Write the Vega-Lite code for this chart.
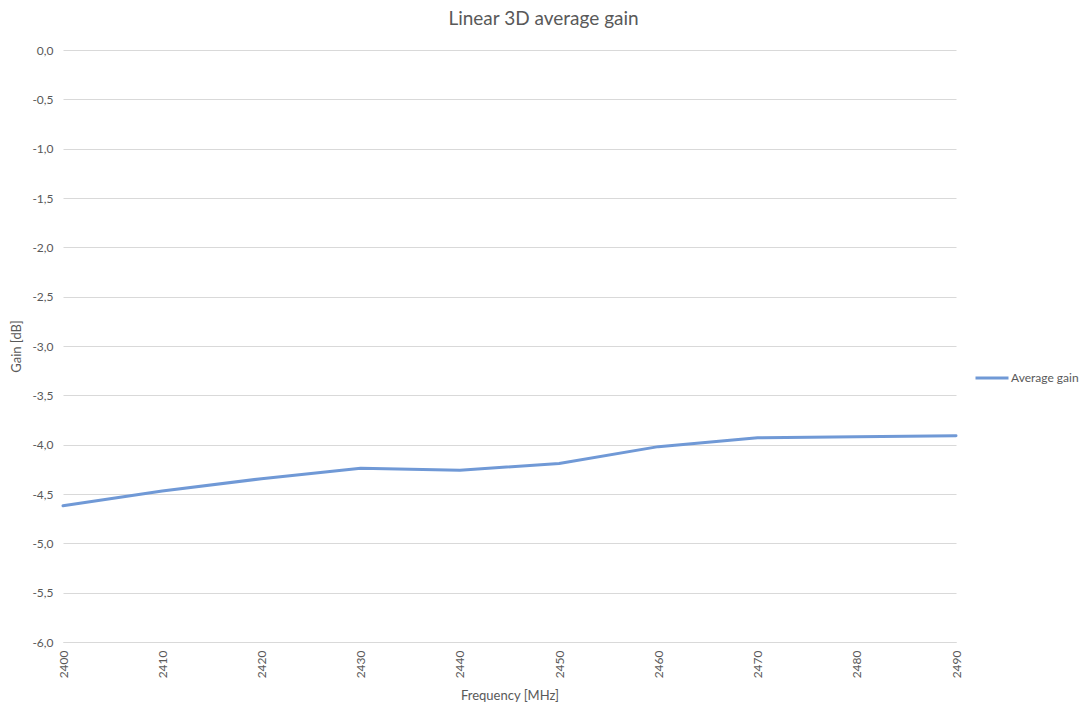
{
  "$schema": "https://vega.github.io/schema/vega-lite/v6.json",
  "autosize": {"type": "none"},
  "width": 893,
  "height": 592,
  "padding": {"left": 63, "top": 50, "right": 134, "bottom": 64},
  "background": "white",
  "title": {
    "text": "Linear 3D average gain",
    "fontSize": 19,
    "font": "Lato",
    "fontWeight": "normal",
    "color": "#595959",
    "anchor": "middle",
    "dx": 34,
    "offset": 15
  },
  "config": {
    "view": {"stroke": null},
    "font": "Lato"
  },
  "data": {
    "values": [
      {"freq": 2400, "gain": -4.62, "series": "Average gain"},
      {"freq": 2410, "gain": -4.47, "series": "Average gain"},
      {"freq": 2420, "gain": -4.345, "series": "Average gain"},
      {"freq": 2430, "gain": -4.24, "series": "Average gain"},
      {"freq": 2440, "gain": -4.26, "series": "Average gain"},
      {"freq": 2450, "gain": -4.19, "series": "Average gain"},
      {"freq": 2460, "gain": -4.02, "series": "Average gain"},
      {"freq": 2470, "gain": -3.93, "series": "Average gain"},
      {"freq": 2480, "gain": -3.92, "series": "Average gain"},
      {"freq": 2490, "gain": -3.91, "series": "Average gain"}
    ]
  },
  "mark": {"type": "line", "strokeWidth": 3, "strokeCap": "round", "strokeJoin": "round"},
  "encoding": {
    "x": {
      "field": "freq",
      "type": "quantitative",
      "scale": {"domain": [2400, 2490], "nice": false, "zero": false},
      "axis": {
        "title": "Frequency [MHz]",
        "titleFontSize": 13,
        "titleFontWeight": "normal",
        "titleColor": "#595959",
        "titlePadding": 12,
        "values": [2400, 2410, 2420, 2430, 2440, 2450, 2460, 2470, 2480, 2490],
        "format": "d",
        "labelAngle": -90,
        "labelAlign": "right",
        "labelBaseline": "middle",
        "labelFontSize": 12,
        "labelColor": "#595959",
        "labelPadding": 8,
        "ticks": false,
        "grid": false,
        "domainColor": "#d9d9d9",
        "domainWidth": 1,
        "labelFlush": false,
        "labelOverlap": false
      }
    },
    "y": {
      "field": "gain",
      "type": "quantitative",
      "scale": {"domain": [-6, 0], "nice": false, "zero": false},
      "axis": {
        "title": "Gain [dB]",
        "titleFontSize": 13,
        "titleFontWeight": "normal",
        "titleColor": "#595959",
        "titlePadding": 8,
        "values": [0, -0.5, -1, -1.5, -2, -2.5, -3, -3.5, -4, -4.5, -5, -5.5, -6],
        "labelExpr": "replace(replace(format(datum.value, '.1f'), '.', ','), '\u2212', '-')",
        "labelFontSize": 12,
        "labelColor": "#595959",
        "labelPadding": 10,
        "ticks": false,
        "domain": false,
        "grid": true,
        "gridColor": "#d9d9d9",
        "gridWidth": 1,
        "labelFlush": false,
        "labelOverlap": false
      }
    },
    "color": {
      "field": "series",
      "type": "nominal",
      "scale": {"range": ["#7099d6"]},
      "legend": {
        "title": null,
        "orient": "none",
        "legendX": 911,
        "legendY": 310,
        "symbolType": "stroke",
        "symbolStrokeWidth": 3,
        "symbolSize": 1089,
        "labelFontSize": 12,
        "labelColor": "#595959",
        "labelOffset": 1
      }
    }
  }
}
